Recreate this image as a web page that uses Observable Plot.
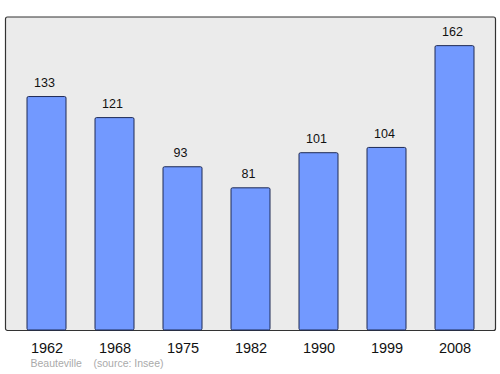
<!DOCTYPE html>
<html>
<head>
<meta charset="utf-8">
<script src="https://cdn.jsdelivr.net/npm/d3@7"></script>
<script src="https://cdn.jsdelivr.net/npm/@observablehq/plot@0.6"></script>
<style>
  html, body { margin: 0; padding: 0; background: #fff; }
  #chart svg { display: block; }
</style>
</head>
<body>
<div id="chart"></div>
<script>
const years = ["1962", "1968", "1975", "1982", "1990", "1999", "2008"];
const population = [133, 121, 93, 81, 101, 104, 162];
const commune = "Beauteville";
const source = "(source: Insee)";

const data = years.map((y, i) => ({year: y, pop: population[i]}));

const chart = Plot.plot({
  width: 500,
  height: 374,
  marginLeft: 5,
  marginRight: 5,
  marginTop: 16.5,
  marginBottom: 44,
  style: {fontFamily: "'Liberation Sans', Arial, sans-serif", background: "#fff"},
  x: {domain: years, paddingInner: 0.43, paddingOuter: 0.215, insetLeft: 6.3, insetRight: 5.3, label: null},
  y: {domain: [0, 178.6], axis: null},
  marks: [
    Plot.frame({fill: "#ebebeb", stroke: "#333", strokeWidth: 1.2, rx: 2}),
    Plot.barY(data, {x: "year", y: "pop", fill: "#7299ff", stroke: "#1e2a55", strokeWidth: 1, rx: 1.5}),
    Plot.text(data, {x: "year", y: "pop", text: d => String(d.pop), dy: -14, dx: -2.5, fontSize: 12.5, fill: "#111"}),
    Plot.axisX({tickSize: 0, tickPadding: 12, fontSize: 14.5, fill: "#111", label: null}),
    Plot.text([commune], {frameAnchor: "bottom-left", dx: 25, dy: 36, text: d => d, fontSize: 10.5, fill: "#aaa", textAnchor: "start"}),
    Plot.text([source], {frameAnchor: "bottom-left", dx: 88, dy: 36, text: d => d, fontSize: 10.5, fill: "#aaa", textAnchor: "start"})
  ]
});
document.getElementById("chart").appendChild(chart);
</script>
</body>
</html>
